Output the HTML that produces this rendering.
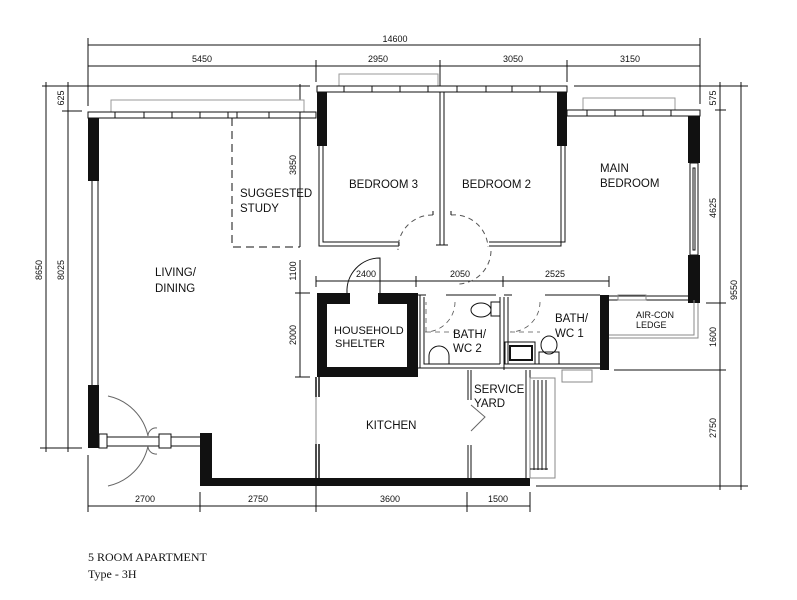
<!DOCTYPE html>
<html><head><meta charset="utf-8"><style>
html,body{margin:0;padding:0;background:#fff;}
svg{display:block}
text{font-family:"Liberation Sans",sans-serif;fill:#111}
.d{font-size:9px}
.r{font-size:11.5px}
</style></head><body>
<svg width="797" height="600" viewBox="0 0 797 600" xmlns="http://www.w3.org/2000/svg">
<g stroke="#111" stroke-width="1" fill="none">
<!-- top dims -->
<line x1="88" y1="45" x2="700" y2="45"/>
<line x1="88" y1="66" x2="700" y2="66"/>
<line x1="88" y1="38" x2="88" y2="106"/>
<line x1="700" y1="38" x2="700" y2="104"/>
<line x1="316" y1="60" x2="316" y2="82"/>
<line x1="440" y1="60" x2="440" y2="92"/>
<line x1="567" y1="60" x2="567" y2="82"/>
<line x1="42" y1="86" x2="310" y2="86"/>
<line x1="574" y1="86" x2="748" y2="86"/>
<!-- left dims -->
<line x1="46" y1="82" x2="46" y2="452"/>
<line x1="68" y1="82" x2="68" y2="452"/>
<line x1="62" y1="111" x2="82" y2="111"/>
<line x1="40" y1="448" x2="82" y2="448"/>
<line x1="300" y1="84" x2="300" y2="247"/>
<line x1="300" y1="260" x2="300" y2="377"/>
<line x1="295" y1="293" x2="310" y2="293"/>
<line x1="295" y1="377" x2="310" y2="377"/>
<!-- right dims -->
<line x1="720" y1="82" x2="720" y2="490"/>
<line x1="741" y1="82" x2="741" y2="490"/>
<line x1="715" y1="110" x2="726" y2="110"/>
<line x1="706" y1="303" x2="726" y2="303"/>
<line x1="614" y1="370" x2="726" y2="370"/>
<line x1="536" y1="486" x2="748" y2="486"/>
<!-- middle dim -->
<line x1="316" y1="281" x2="609" y2="281"/>
<line x1="316" y1="276" x2="316" y2="287"/>
<line x1="416" y1="276" x2="416" y2="287"/>
<line x1="503" y1="276" x2="503" y2="287"/>
<line x1="609" y1="276" x2="609" y2="287"/>
<!-- bottom dims -->
<line x1="88" y1="506" x2="530" y2="506"/>
<line x1="88" y1="455" x2="88" y2="512"/>
<line x1="200" y1="492" x2="200" y2="512"/>
<line x1="316" y1="486" x2="316" y2="512"/>
<line x1="467" y1="492" x2="467" y2="512"/>
<line x1="530" y1="492" x2="530" y2="512"/>
</g>
<g class="d" text-anchor="middle">
<text x="395" y="42">14600</text>
<text x="202" y="62">5450</text>
<text x="378" y="62">2950</text>
<text x="513" y="62">3050</text>
<text x="630" y="62">3150</text>
<text x="145" y="502">2700</text>
<text x="258" y="502">2750</text>
<text x="390" y="502">3600</text>
<text x="498" y="502">1500</text>
<text x="366" y="277">2400</text>
<text x="460" y="277">2050</text>
<text x="555" y="277">2525</text>
<text transform="translate(64,98) rotate(-90)">625</text>
<text transform="translate(42,270) rotate(-90)">8650</text>
<text transform="translate(64,270) rotate(-90)">8025</text>
<text transform="translate(296,165) rotate(-90)">3850</text>
<text transform="translate(296,271) rotate(-90)">1100</text>
<text transform="translate(296,335) rotate(-90)">2000</text>
<text transform="translate(716,98) rotate(-90)">575</text>
<text transform="translate(716,208) rotate(-90)">4625</text>
<text transform="translate(716,337) rotate(-90)">1600</text>
<text transform="translate(716,428) rotate(-90)">2750</text>
<text transform="translate(737,290) rotate(-90)">9550</text>
</g>
<!-- windows -->
<g stroke="#111" stroke-width="1" fill="#fff">
<rect x="111" y="100" width="193" height="12" stroke="#999"/>
<rect x="88" y="112" width="228" height="6"/>
<rect x="339" y="74" width="99" height="12" stroke="#999"/>
<rect x="317" y="86" width="250" height="6"/>
<rect x="583" y="98" width="92" height="12" stroke="#999"/>
<rect x="567" y="110" width="133" height="6"/>
<path d="M115 112v6M144 112v6M172 112v6M200 112v6M228 112v6M237 112v6M269 112v6M300 112v6M344 86v6M372 86v6M400 86v6M428 86v6M457 86v6M486 86v6M512 86v6M540 86v6M587 110v6M615 110v6M643 110v6M671 110v6" fill="none"/>
</g>
<!-- black walls -->
<g fill="#111">
<rect x="88" y="118" width="11" height="63"/>
<rect x="88" y="385" width="11" height="63"/>
<rect x="200" y="433" width="12" height="53"/>
<rect x="200" y="478" width="330" height="8"/>
<rect x="317" y="92" width="10" height="54"/>
<rect x="557" y="92" width="10" height="54"/>
<rect x="688" y="116" width="12" height="47"/>
<rect x="688" y="255" width="12" height="48"/>
<rect x="317" y="293" width="101" height="84"/>
<rect x="600" y="295" width="9" height="75"/>
</g>
<rect x="327" y="304" width="80" height="63" fill="#fff"/>
<rect x="350" y="293" width="28" height="11" fill="#fff"/>
<g stroke="#111" stroke-width="1" fill="none">
<!-- living left thin wall -->
<path d="M92 181v204M98 181v204"/>
<!-- entrance door -->
<path d="M99 437h101M99 446h101"/>
<rect x="99" y="434" width="8" height="14" fill="#fff"/>
<rect x="159" y="434" width="12" height="14" fill="#fff"/>
<path d="M108 396a52 52 0 0 1 40 40M108 486a52 52 0 0 0 40 -40M148 436a8 8 0 0 1 9 -8M148 446a8 8 0 0 0 9 8" stroke="#666"/>
<!-- study dashed -->
<path d="M232 118v129h68" stroke-dasharray="8,5"/>
<!-- bedroom3 walls -->
<path d="M319 146v100h80M323 146v96h76M399 242v4"/>
<path d="M440 92v153h4v-153M436 245h12"/>
<path d="M561 146v100h-72M565 146v96h-76"/>
<path d="M433 215a34 34 0 0 0 -35 35M451 215a34 34 0 0 1 37 32M491 251a34 34 0 0 1 -32 33" stroke-dasharray="5,4" stroke="#555"/>
<path d="M433 215v-4M451 215v-4"/>
<!-- main bedroom window slot -->
<rect x="690" y="163" width="8" height="92"/>
<rect x="693" y="168" width="2" height="82"/>
<!-- shelter door -->
<path d="M347 293a33 33 0 0 1 33 -35v35"/>
<!-- baths -->
<path d="M418 295h8M446 295h50M504 295h8M545 295h55M420 295v73M424 297v67h76M500 297v67M504 297v73M508 297v67h92M418 368h182"/>
<path d="M426 332h30M426 332v-30M455 302a30 30 0 0 1 -30 30" stroke-dasharray="5,4" stroke="#555" stroke-width="0.8"/>
<path d="M510 332h30M540 302a30 30 0 0 1 -30 30" stroke-dasharray="5,4" stroke="#555" stroke-width="0.8"/>
<rect x="491" y="302" width="9" height="14"/>
<ellipse cx="481" cy="310" rx="10" ry="7"/>
<path d="M429 364v-8a10 10 0 0 1 20 0v8"/>
<rect x="510" y="346" width="22" height="14" stroke-width="2"/>
<rect x="505" y="342" width="30" height="22"/>
<rect x="539" y="352" width="20" height="12"/>
<ellipse cx="549" cy="345" rx="8" ry="9"/>
<rect x="562" y="370" width="30" height="12" stroke="#888"/>
<!-- aircon ledge -->
<path d="M609 296h79M609 300h79" />
<rect x="618" y="295" width="28" height="5" stroke="#888"/>
<path d="M609 335h85v-35M609 338h89v-35" stroke="#888"/>
<!-- kitchen / service yard -->
<path d="M316 377v20M319 377v20M316 444v34M319 444v34" stroke-width="1.5"/>
<line x1="316" y1="397" x2="316" y2="444" stroke="#888"/>
<path d="M468 370v30M471 370v30M468 445v33M471 445v33"/>
<path d="M471 405l14 12l-14 14" stroke="#666"/>
<path d="M526 370v108M530 370v108"/>
<rect x="530" y="378" width="25" height="100" stroke="#888"/>
<path d="M534 380v90M538 380v90M542 380v90M546 380v90M530 469h18"/>
</g>
<g class="r">
<text x="240" y="197">SUGGESTED</text>
<text x="240" y="212">STUDY</text>
<text x="155" y="276">LIVING/</text>
<text x="155" y="292">DINING</text>
<text x="349" y="188">BEDROOM 3</text>
<text x="462" y="188">BEDROOM 2</text>
<text x="600" y="172">MAIN</text>
<text x="600" y="187">BEDROOM</text>
<text x="334" y="334" style="font-size:11px">HOUSEHOLD</text>
<text x="335" y="347" style="font-size:11px">SHELTER</text>
<text x="453" y="338">BATH/</text>
<text x="453" y="352">WC 2</text>
<text x="555" y="322">BATH/</text>
<text x="555" y="337">WC 1</text>
<text x="636" y="318" style="font-size:9px">AIR-CON</text>
<text x="636" y="328" style="font-size:9px">LEDGE</text>
<text x="366" y="429">KITCHEN</text>
<text x="474" y="393">SERVICE</text>
<text x="474" y="407">YARD</text>
</g>
<text x="88" y="561" style="font-family:'Liberation Serif',serif;font-size:12px">5 ROOM APARTMENT</text>
<text x="88" y="578" style="font-family:'Liberation Serif',serif;font-size:12px">Type - 3H</text>
</svg>
</body></html>
